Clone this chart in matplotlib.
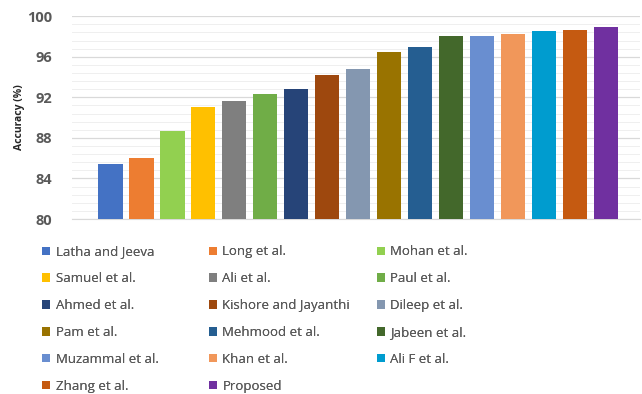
import matplotlib
matplotlib.use("Agg")
import matplotlib.pyplot as plt
from matplotlib.patches import Patch
from matplotlib.ticker import MultipleLocator

plt.rcParams['font.family'] = 'Open Sans'

methods = ["Latha and Jeeva", "Long et al.", "Mohan et al.", "Samuel et al.",
           "Ali et al.", "Paul et al.", "Ahmed et al.", "Kishore and Jayanthi",
           "Dileep et al.", "Pam et al.", "Mehmood et al.", "Jabeen et al.",
           "Muzammal et al.", "Khan et al.", "Ali F et al.", "Zhang et al.",
           "Proposed"]
accuracy = [85.4, 86.0, 88.7, 91.0, 91.6, 92.3, 92.8, 94.2, 94.8, 96.5,
            97.0, 98.0, 98.0, 98.2, 98.5, 98.6, 98.9]
colors = ["#4472C4", "#ED7D31", "#92D050", "#FFC000", "#7F7F7F", "#70AD47",
          "#264478", "#9E480E", "#8497B0", "#997300", "#255E91", "#43682B",
          "#698ED0", "#F1975A", "#009CCF", "#C55A11", "#7030A0"]

fig = plt.figure(figsize=(6.42, 3.94), dpi=100)
ax = fig.add_axes([0.112, 0.444, 0.885, 0.515])

x = list(range(len(methods)))
ax.bar(x, accuracy, width=0.79, color=colors, zorder=3)

ax.set_ylim(80, 100)
ax.set_xlim(-1.24, 16 + 1.1)
ax.yaxis.set_major_locator(MultipleLocator(4))
ax.yaxis.set_minor_locator(MultipleLocator(0.8))
ax.grid(axis='y', which='major', color='#D9D9D9', linewidth=0.9, zorder=0)
ax.grid(axis='y', which='minor', color='#EFEFEF', linewidth=0.7, zorder=0)
ax.set_xticks([])
for s in ['top', 'right', 'left']:
    ax.spines[s].set_visible(False)
ax.spines['bottom'].set_color('#D9D9D9')
ax.tick_params(axis='y', which='both', length=0, labelsize=10.5,
               labelcolor='#595959', pad=14)
for lab in ax.get_yticklabels():
    lab.set_fontweight('bold')
ax.set_ylabel("Accuracy (%)", fontsize=7.5, fontweight='bold',
              color='#262626', labelpad=2, fontstretch='condensed')

# legend: three columns placed side by side, filled row by row
col_x = [0.066, 0.326, 0.587]
for c in range(3):
    idx = list(range(c, len(methods), 3))
    handles = [Patch(facecolor=colors[i], edgecolor='none') for i in idx]
    leg = fig.legend(handles, [methods[i] for i in idx], loc='upper left',
                     bbox_to_anchor=(col_x[c], 0.377), frameon=False,
                     fontsize=9.5, handlelength=0.6, handleheight=0.6,
                     handletextpad=0.4, labelspacing=1.05, borderaxespad=0,
                     borderpad=0, labelcolor='#595959')
    fig.add_artist(leg)

fig.savefig("out.png", dpi=100)
